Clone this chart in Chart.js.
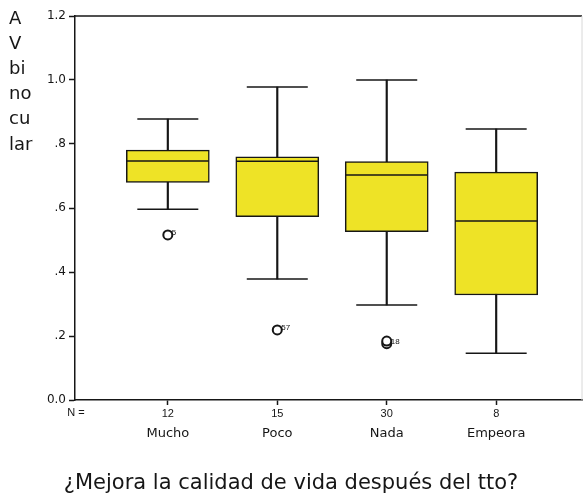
<!DOCTYPE html>
<html>
<head>
<meta charset="utf-8">
<script src="https://cdn.jsdelivr.net/npm/chart.js@4/dist/chart.umd.min.js"></script>
<style>
  html, body { margin: 0; padding: 0; background: #fff; }
  #wrap { width: 587px; height: 494px; }
</style>
</head>
<body>
<div id="wrap"><canvas id="boxChart"></canvas></div>
<script>
// data
const categories = ['Mucho', 'Poco', 'Nada', 'Empeora'];
const counts = [12, 15, 30, 8];
const whiskerLow = [0.596, 0.378, 0.297, 0.146];
const q1 = [0.680, 0.573, 0.526, 0.328];
const median = [0.747, 0.746, 0.703, 0.559];
const q3 = [0.781, 0.760, 0.745, 0.712];
const whiskerHigh = [0.878, 0.978, 1.000, 0.847];

// outliers: category index (1-based), value, case label
const outlierCat = [1, 2, 3, 3];
const outlierVal = [0.516, 0.219, 0.176, 0.184];
const outlierLabel = ['5', '57', '18', ''];

const yTickValues = [0, 0.2, 0.4, 0.6, 0.8, 1.0, 1.2];
const yTickLabels = ['0.0', '.2', '.4', '.6', '.8', '1.0', '1.2'];
const yTitleLines = ['A', 'V', 'bi', 'no', 'cu', 'lar'];
const xTitle = '¿Mejora la calidad de vida después del tto?';

const ink = '#161616';
const pos = categories.map((c, i) => i + 1);
const xMin = 0.152, xMax = 4.784;

// frame, "N =", y title and outlier case numbers
const extras = {
  id: 'extras',
  afterDatasetsDraw(chart) {
    const ctx = chart.ctx;
    const a = chart.chartArea;
    ctx.save();
    ctx.strokeStyle = ink;
    ctx.lineWidth = 1.5;
    ctx.beginPath();
    ctx.moveTo(a.left, a.top);
    ctx.lineTo(a.right, a.top);
    ctx.stroke();
    ctx.strokeStyle = '#d8d8d8';
    ctx.lineWidth = 1;
    ctx.beginPath();
    ctx.moveTo(a.right, a.top);
    ctx.lineTo(a.right, a.bottom);
    ctx.stroke();

    // case labels next to outliers
    const meta = chart.getDatasetMeta(5);
    ctx.fillStyle = ink;
    ctx.font = '8px "Liberation Sans", Arial, sans-serif';
    ctx.textBaseline = 'middle';
    meta.data.forEach((pt, i) => {
      if (outlierLabel[i]) ctx.fillText(outlierLabel[i], pt.x + 4, pt.y - 2);
    });

    // N =
    ctx.font = '11px "Liberation Sans", Arial, sans-serif';
    ctx.textAlign = 'center';
    const xs = chart.scales.x;
    ctx.fillText('N =', a.left + 1, xs.top + 13);

    // stacked y title
    ctx.font = '18px "DejaVu Sans", sans-serif';
    ctx.textAlign = 'left';
    yTitleLines.forEach((t, i) => ctx.fillText(t, 9, 19 + i * 25.2));
    ctx.restore();
  }
};

new Chart(document.getElementById('boxChart'), {
  data: {
    datasets: [
      { // median
        type: 'line', showLine: false, order: 0,
        data: pos.map((x, i) => ({ x: x, y: median[i] })),
        pointStyle: 'line', pointRadius: 41, borderColor: ink, borderWidth: 1.5
      },
      { // box
        type: 'bar', grouped: false, order: 1, barThickness: 83,
        data: pos.map((x, i) => ({ x: x, y: [q1[i], q3[i]] })),
        backgroundColor: '#eee326', borderColor: ink, borderWidth: 1.5, borderSkipped: false
      },
      { // whisker stem
        type: 'bar', grouped: false, order: 2, barThickness: 1.5,
        data: pos.map((x, i) => ({ x: x, y: [whiskerLow[i], whiskerHigh[i]] })),
        backgroundColor: ink, borderWidth: 0
      },
      { // upper cap
        type: 'line', showLine: false, order: 3,
        data: pos.map((x, i) => ({ x: x, y: whiskerHigh[i] })),
        pointStyle: 'line', pointRadius: 30.5, borderColor: ink, borderWidth: 1.5
      },
      { // lower cap
        type: 'line', showLine: false, order: 4,
        data: pos.map((x, i) => ({ x: x, y: whiskerLow[i] })),
        pointStyle: 'line', pointRadius: 30.5, borderColor: ink, borderWidth: 1.5
      },
      { // outliers
        type: 'line', showLine: false, order: 5,
        data: outlierCat.map((c, i) => ({ x: c, y: outlierVal[i] })),
        pointStyle: 'circle', pointRadius: 4.5, pointBackgroundColor: '#fff',
        borderColor: ink, borderWidth: 2
      }
    ]
  },
  options: {
    responsive: true,
    maintainAspectRatio: false,
    animation: false,
    events: [],
    layout: { autoPadding: false, padding: { top: 16, right: 5, left: 0, bottom: 0 } },
    plugins: {
      legend: { display: false },
      tooltip: { enabled: false },
      title: {
        display: true,
        position: 'bottom',
        text: xTitle,
        color: ink,
        font: { family: '"DejaVu Sans", sans-serif', size: 21, weight: 'normal', lineHeight: 1 },
        padding: { top: 21, bottom: 0 }
      }
    },
    scales: {
      x: {
        type: 'linear', position: 'bottom', weight: 0, offset: false,
        min: xMin, max: xMax,
        afterBuildTicks: s => { s.ticks = pos.map(v => ({ value: v })); },
        afterFit: s => { s.height = 22; },
        ticks: {
          callback: (v) => counts[v - 1],
          color: ink, padding: 2, maxRotation: 0,
          font: { family: '"Liberation Sans", Arial, sans-serif', size: 11 }
        },
        grid: { offset: false, drawOnChartArea: false, tickLength: 5, color: ink, tickWidth: 1.5 },
        border: { color: ink, width: 1.5 }
      },
      x2: {
        type: 'linear', position: 'bottom', weight: 1, offset: false,
        min: xMin, max: xMax,
        afterBuildTicks: s => { s.ticks = pos.map(v => ({ value: v })); },
        afterFit: s => { s.height = 30; },
        ticks: {
          callback: (v) => categories[v - 1],
          color: ink, padding: 4, maxRotation: 0,
          font: { family: '"DejaVu Sans", sans-serif', size: 13 }
        },
        grid: { display: false, drawTicks: false },
        border: { display: false }
      },
      y: {
        min: 0, max: 1.2,
        afterBuildTicks: s => { s.ticks = yTickValues.map(v => ({ value: v })); },
        afterFit: s => { s.width = 75; },
        ticks: {
          callback: (v, i) => yTickLabels[i],
          color: ink, padding: 3,
          font: { family: '"DejaVu Sans", sans-serif', size: 12 }
        },
        grid: { drawOnChartArea: false, tickLength: 6, color: ink, tickWidth: 1.5 },
        border: { color: ink, width: 1.5 }
      }
    }
  },
  plugins: [extras]
});
</script>
</body>
</html>
